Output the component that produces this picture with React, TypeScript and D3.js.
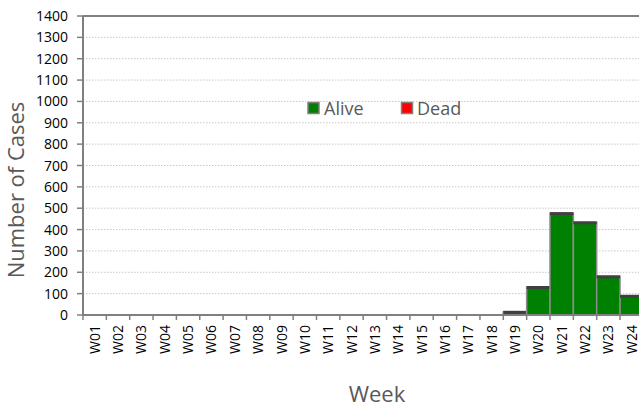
import * as d3 from 'd3'
import React from 'react'

const weeks = ['W01', 'W02', 'W03', 'W04', 'W05', 'W06', 'W07', 'W08', 'W09', 'W10', 'W11', 'W12',
  'W13', 'W14', 'W15', 'W16', 'W17', 'W18', 'W19', 'W20', 'W21', 'W22', 'W23', 'W24']
const alive = [0, 0, 0, 0, 0, 0, 0, 0, 0, 0, 0, 0, 0, 0, 0, 0, 0, 0, 15, 131, 477, 434, 181, 90]
const dead = [0, 0, 0, 0, 0, 0, 0, 0, 0, 0, 0, 0, 0, 0, 0, 0, 0, 0, 0, 0, 0, 0, 0, 0]
const yTicks = d3.range(0, 1401, 100)

const W = 639, H = 409
const FONT = '"Open Sans", "Liberation Sans", Arial, sans-serif'

export default function App() {
  const
    left = 83,
    top = 16,
    bottom = 315,
    band = 23.35,
    x = d3.scaleBand<string>().domain(weeks).range([left, left + band * weeks.length]).padding(0),
    y = d3.scaleLinear().domain([0, 1400]).range([bottom, top])

  return (
    <svg width={W} height={H} style={{ position: 'absolute', left: 0, top: 0 }} fontFamily={FONT}>
      <rect width={W} height={H} fill='#fff' />
      {yTicks.map(t => (
        <g key={t}>
          {t > 0 && t < 1400 && <line x1={left} x2={W} y1={y(t)} y2={y(t)} stroke='#c8c8c8' strokeDasharray='1.5,1.5' />}
          <line x1={left - 6} x2={left} y1={y(t)} y2={y(t)} stroke='#808080' strokeWidth={1.5} />
          <text x={68} y={y(t)} dy='0.36em' textAnchor='end' fontSize={14} fill='#000'>{t}</text>
        </g>
      ))}
      {weeks.map((w, i) => {
        const x0 = x(w)!, bw = x.bandwidth(), hTop = y(alive[i] + dead[i])
        return (
          <g key={w}>
            {alive[i] > 0 && (
              <>
                <rect x={x0} y={y(alive[i])} width={bw} height={bottom - y(alive[i])} fill='#008000' stroke='#8c8c8c' strokeWidth={1.5} />
                <line x1={x0} x2={x0 + bw} y1={hTop + 0.5} y2={hTop + 0.5} stroke='#404040' strokeWidth={3} />
              </>
            )}
            <line x1={x0} x2={x0} y1={bottom} y2={bottom + 5} stroke='#808080' strokeWidth={1.5} />
            <text transform={`translate(${x0 + bw / 2},${bottom + 10}) rotate(-90)`} dy='0.36em' textAnchor='end' fontSize={14} fill='#000'>{w}</text>
          </g>
        )
      })}
      <line x1={left} x2={W} y1={top} y2={top} stroke='#808080' strokeWidth={2} />
      <line x1={left} x2={left} y1={top} y2={bottom + 1} stroke='#808080' strokeWidth={2} />
      <line x1={left - 1} x2={W} y1={bottom} y2={bottom} stroke='#808080' strokeWidth={2} />
      <g fontSize={18} fill='#595959'>
        <rect x={308} y={102.5} width={11} height={11} fill='#008000' stroke='#808080' strokeWidth={1.5} />
        <text x={324} y={115}>Alive</text>
        <rect x={401.5} y={102.5} width={11} height={11} fill='#ff0000' stroke='#808080' strokeWidth={1.5} />
        <text x={417} y={115}>Dead</text>
      </g>
      <text transform={`translate(24,190) rotate(-90)`} textAnchor='middle' fontSize={22} fill='#595959'>Number of Cases</text>
      <text x={377} y={402} textAnchor='middle' fontSize={22} fill='#595959'>Week</text>
    </svg>
  )
}
